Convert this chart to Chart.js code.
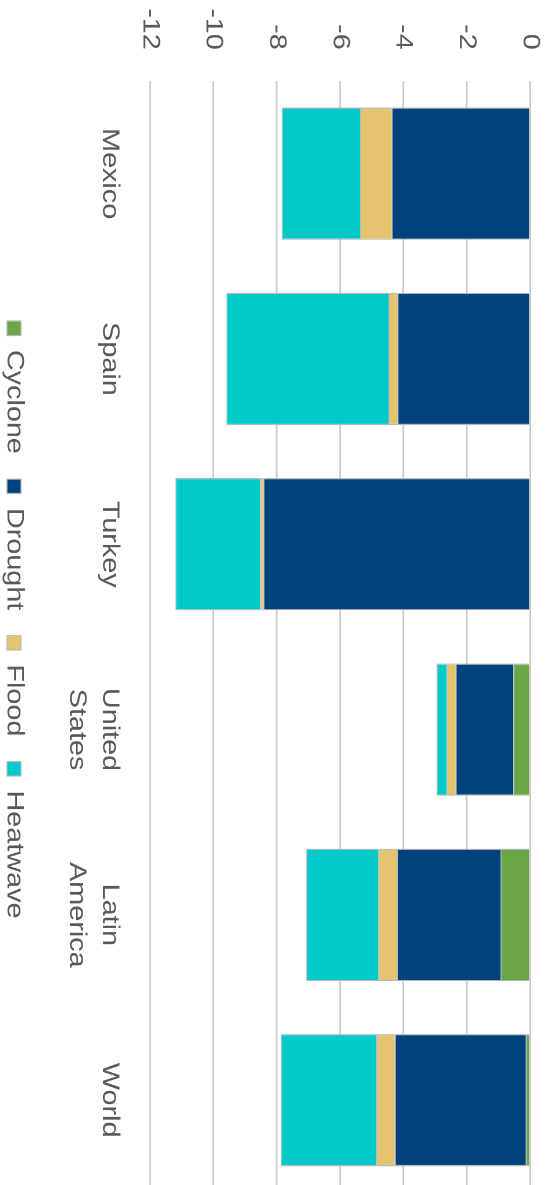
<!DOCTYPE html>
<html lang="en">
<head>
    <meta charset="UTF-8">
    <title>Disaster losses by type</title>
    <script src="https://cdn.jsdelivr.net/npm/chart.js"></script>
    <style>
        html, body {
            margin: 0;
            padding: 0;
            background: #ffffff;
            overflow: hidden;
            width: 545px;
            height: 1185px;
        }
        /* chart is drawn landscape, then turned a quarter clockwise and widened a bit */
        .rotated {
            position: absolute;
            left: 0;
            top: 0;
            width: 1000px;
            height: 553px;
            transform-origin: 0 0;
            transform: translateX(545px) rotate(90deg) scaleX(1.2);
        }
    </style>
</head>
<body>
    <div class="rotated">
        <canvas id="lossChart" width="1000" height="553"></canvas>
    </div>

    <script>
        const categories = ['Mexico', 'Spain', 'Turkey', ['United', 'States'], ['Latin', 'America'], 'World'];
        const cyclone  = [0, 0, 0, -0.53, -0.93, -0.13];
        const drought  = [-4.37, -4.19, -8.42, -1.82, -3.27, -4.14];
        const flood    = [-1.0, -0.28, -0.1, -0.28, -0.59, -0.58];
        const heatwave = [-2.47, -5.12, -2.68, -0.32, -2.28, -3.02];
        const yTicks   = [-12, -10, -8, -6, -4, -2, 0];

        const textColor = '#595959';
        Chart.defaults.font.family = "'Liberation Sans', Arial, sans-serif";
        Chart.defaults.font.size = 24;
        Chart.defaults.color = textColor;

        function series(label, data, color) {
            return {
                label: label,
                data: data,
                backgroundColor: color,
                borderColor: '#b8b8b8',
                borderWidth: 1,
                categoryPercentage: 1,
                barPercentage: 0.714
            };
        }

        // legend sits a little right of the plot centre in the original
        const legendShift = {
            id: 'legendShift',
            afterLayout(chart) {
                chart.legend.left += 19.5;
                chart.legend.right += 19.5;
            }
        };

        const ctx = document.getElementById('lossChart').getContext('2d');
        new Chart(ctx, {
            type: 'bar',
            data: {
                labels: categories,
                datasets: [
                    series('Cyclone', cyclone, '#6aa646'),
                    series('Drought', drought, '#00427e'),
                    series('Flood', flood, '#e4c46e'),
                    series('Heatwave', heatwave, '#00c9ca')
                ]
            },
            options: {
                responsive: false,
                animation: false,
                devicePixelRatio: 2,
                layout: {
                    padding: { left: 0, right: 6, top: 15, bottom: 0 }
                },
                plugins: {
                    legend: {
                        position: 'bottom',
                        labels: {
                            boxWidth: 12,
                            boxHeight: 14,
                            padding: 21,
                            color: textColor,
                            font: { size: 24 }
                        }
                    },
                    tooltip: { enabled: false }
                },
                scales: {
                    x: {
                        stacked: true,
                        grid: { display: false, drawTicks: false },
                        border: { display: false },
                        ticks: {
                            padding: 24,
                            maxRotation: 0,
                            autoSkip: false,
                            font: { size: 24, lineHeight: 1.375 }
                        },
                        afterFit: function (scale) {
                            scale.height = 103;
                        }
                    },
                    y: {
                        stacked: true,
                        min: -12,
                        max: 0,
                        afterBuildTicks: function (scale) {
                            scale.ticks = yTicks.map(v => ({ value: v }));
                        },
                        grid: {
                            color: '#c8c8c8',
                            lineWidth: 1.6,
                            drawTicks: false
                        },
                        border: { display: false },
                        ticks: {
                            padding: 26,
                            font: { size: 24, lineHeight: 1.2 }
                        },
                        afterFit: function (scale) {
                            scale.width = 67.5;
                            scale.paddingTop = 14;
                            scale.paddingBottom = 14;
                        }
                    }
                }
            },
            plugins: [legendShift]
        });
    </script>
</body>
</html>
